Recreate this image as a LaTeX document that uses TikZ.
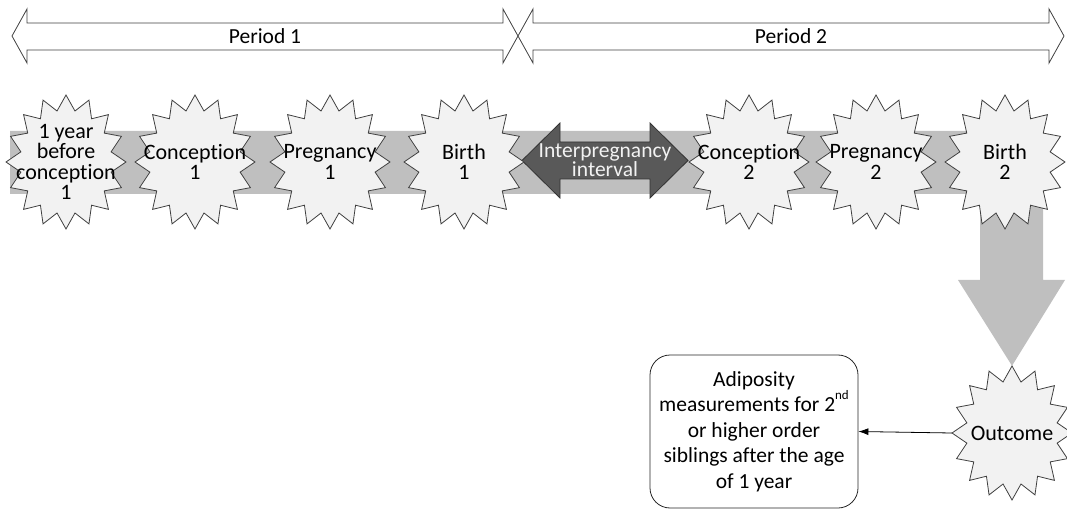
\documentclass[tikz,border=0pt]{standalone}
\usepackage{fontspec}
\setmainfont{Carlito}[Ligatures={NoCommon}]
\usetikzlibrary{arrows.meta}

\definecolor{bandgray}{RGB}{191,191,191}
\definecolor{burstfill}{RGB}{242,242,242}
\definecolor{burstdraw}{RGB}{64,64,64}
\definecolor{gapfill}{RGB}{89,89,89}

\pgfdeclarelayer{band layer}
\pgfdeclarelayer{burst layer}
\pgfsetlayers{band layer,burst layer,main}

\begin{document}
\begin{tikzpicture}[
		x=1pt, y=-1pt,
		% Style for the timeline events (text only, the star is drawn around it)
		event/.style={minimum width=120, minimum height=134, inner sep=0pt,
			align=center, font=\fontsize{22}{20.5}\selectfont},
		% Star outline
		burst/.style={fill=burstfill, draw=burstdraw, line width=0.8pt, line join=miter},
		% Period arrows
		period arrow/.style={fill=white, draw=burstdraw, line width=0.8pt},
		period label/.style={font=\fontsize{21.5}{25}\selectfont},
		% Interpregnancy arrow
		gap arrow/.style={fill=gapfill, draw=black!80, line width=0.8pt},
		gap label/.style={align=center, text=burstfill, font=\fontsize{21.5}{19.5}\selectfont},
		% Outcome box
		measure box/.style={draw=black!85, line width=0.8pt, rounded corners=20,
			minimum width=208, minimum height=153, align=center,
			font=\fontsize{21.5}{25.5}\selectfont}
		]
		
		\useasboundingbox (0,0) rectangle (1067,510);
		
		% ==============================================================================
		% PERIODS
		% ==============================================================================
		\draw[period arrow] (12,36) -- (27,9) -- (27,23) -- (503,23) -- (503,9) -- (518,36)
			-- (503,63) -- (503,50) -- (27,50) -- (27,63) -- cycle;
		\draw[period arrow] (518,36) -- (533,9) -- (533,23) -- (1049,23) -- (1049,9) -- (1064,36)
			-- (1049,63) -- (1049,50) -- (533,50) -- (533,63) -- cycle;
		\node[period label] (per1) at (265,36) {Period 1};
		\node[period label] (per2) at (791,36) {Period 2};
		
		% ==============================================================================
		% TIMELINE EVENTS
		% ==============================================================================
		\node[event] (yr1) at (66,162) {1 year\\before\\conception\\1};
		\node[event] (con1) at (195,162) {Conception\\1};
		\node[event] (preg1) at (330,162) {Pregnancy\\1};
		\node[event] (birth1) at (464,162) {Birth\\1};
		\node[event] (con2) at (749,162) {Conception\\2};
		\node[event] (preg2) at (876,162) {Pregnancy\\2};
		\node[event] (birth2) at (1005,162) {Birth\\2};
		\node[event] (outc) at (1012,433) {Outcome};
		
		\node[gap label] (gap) at (605,160) {Interpregnancy\\interval};
		
		% --- grey band with the bend down to the outcome
		\begin{pgfonlayer}{band layer}
			\fill[bandgray] (10,131) -- (1043,131) -- (1043,280) -- (1065,280) -- (outc.north)
				-- (958,280) -- (980,280) -- (980,194) -- (10,194) -- cycle;
		\end{pgfonlayer}
		
		\begin{pgfonlayer}{burst layer}
			\draw[gap arrow] (522,160.5) -- (560,123) -- (560,142) -- (650,142) -- (650,123)
				-- (688,160.5) -- (650,198) -- (650,179) -- (560,179) -- (560,198) -- cycle;
			\foreach \ev in {yr1,con1,preg1,birth1,con2,preg2,birth2,outc}
				\filldraw[burst, shift={(\ev)}] (0:60 and 67)
					\foreach \k in {0,...,15} { -- (\k*22.5+11.25:46 and 52) -- (\k*22.5+22.5:60 and 67) }
					-- cycle;
		\end{pgfonlayer}
		
		% ==============================================================================
		% OUTCOME
		% ==============================================================================
		\node[measure box] (adip) at (754,431.5) {Adiposity\\measurements for 2\raisebox{0.55em}{\fontsize{13}{13}\selectfont nd}\\or higher order\\siblings after the age\\of 1 year};
		
		\draw[-{Latex[length=10pt, width=7pt]}, line width=0.8pt] (outc.west) -- (adip.east);
		
	\end{tikzpicture}
\end{document}
